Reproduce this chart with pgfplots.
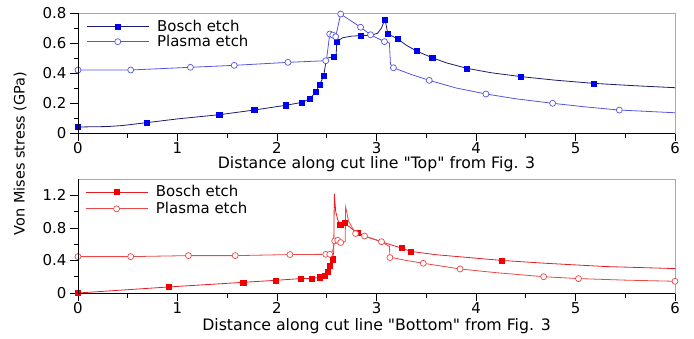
\documentclass[border=0pt]{standalone}
\usepackage{fontspec}
\setmainfont{DejaVu Sans}[Ligatures=TeXOff]
\usepackage{pgfplots}
\pgfplotsset{compat=1.18}
\definecolor{bnavy}{HTML}{1C1C70}
\definecolor{bblue}{HTML}{0000F0}
\definecolor{pblue}{HTML}{5555E0}
\definecolor{bred}{HTML}{E41E24}
\definecolor{pred}{HTML}{E84848}
\definecolor{sred}{HTML}{F00000}
\definecolor{boxgray}{HTML}{A8A8A8}
\pgfplotsset{
 mystyle/.style={
  scale only axis, width=597bp, xmin=0, xmax=6, xtick={0,1,...,6}, minor x tick num=1,
  tick align=outside, tick pos=left,
  axis line style={boxgray, line width=0.7bp},
  tick style={black, line width=0.6bp}, major tick length=8bp, minor tick length=4.5bp,
  ticklabel style={font=\fontsize{15}{16}\selectfont},
  xticklabel style={inner ysep=1bp},
  /pgf/number format/assume math mode=true,
  every axis x label/.style={at={(axis description cs:0.5,0)}, anchor=center, font=\fontsize{15.8}{17}\selectfont, inner sep=0pt},
  legend style={draw=none, fill=none, anchor=north west, font=\fontsize{15}{17}\selectfont, inner sep=0pt, outer sep=0pt, column sep=6bp},
  legend cell align=left,
  legend image code/.code={\draw[mark repeat=2, mark phase=2, ##1] plot coordinates {(0bp,0bp) (31bp,0bp) (62bp,0bp)};},
  after end axis/.code={\draw[black, line width=0.7bp] (rel axis cs:0,1) -- (rel axis cs:0,0) -- (rel axis cs:1,0);},
 }
}
\begin{document}
\begin{tikzpicture}[x=1bp, y=1bp]
\useasboundingbox (0,0) rectangle (694,338);
% ---------------- top ----------------
\begin{axis}[mystyle, at={(78bp,205bp)}, anchor=south west, height=120bp,
  ymin=0, ymax=0.8, ytick={0,0.2,0.4,0.6,0.8}, minor y tick num=1,
  yticklabel style={/pgf/number format/fixed},
  xlabel={Distance along cut line "Top" from Fig. 3},
  xlabel style={yshift=-31.5bp},
  legend style={at={(axis description cs:0.014,0.955)}, row sep=-2bp}]
\addplot[bnavy, line width=0.8bp, forget plot] coordinates {
(0,0.040) (0.3,0.043) (0.45,0.050) (0.69,0.069) (1.0,0.094) (1.42,0.122) (1.77,0.153) (2.09,0.185)
(2.25,0.204) (2.33,0.229) (2.39,0.273) (2.43,0.324) (2.47,0.382) (2.49,0.47) (2.51,0.50)
(2.57,0.509) (2.595,0.52) (2.60,0.609) (2.66,0.635) (2.75,0.646) (2.84,0.649) (2.95,0.652)
(3.01,0.665) (3.05,0.70) (3.085,0.758) (3.115,0.66) (3.21,0.629) (3.30,0.585) (3.40,0.547)
(3.56,0.502) (3.70,0.468) (3.91,0.431) (4.15,0.402) (4.45,0.376) (4.80,0.352) (5.18,0.331) (5.6,0.315) (6,0.302)};
\addplot[pblue, line width=0.8bp, forget plot] coordinates {
(0,0.42) (0.53,0.42) (1.13,0.438) (1.57,0.451) (2.11,0.471) (2.49,0.482) (2.50,0.50)
(2.53,0.66) (2.56,0.653) (2.59,0.642) (2.64,0.793) (2.84,0.705) (2.94,0.655) (3.08,0.609)
(3.13,0.60) (3.14,0.46) (3.17,0.435) (3.35,0.39) (3.53,0.351) (3.80,0.30) (4.10,0.26) (4.40,0.228) (4.77,0.198)
(5.10,0.174) (5.44,0.153) (6,0.135)};
\addplot[only marks, mark=square*, mark size=2.6bp, mark options={fill=bblue, draw=bblue}, forget plot] coordinates {
(0,0.040) (0.69,0.069) (1.42,0.122) (1.77,0.153) (2.09,0.185) (2.25,0.204) (2.33,0.229)
(2.39,0.273) (2.43,0.324) (2.47,0.382) (2.57,0.509) (2.60,0.609) (2.84,0.649) (3.085,0.758)
(3.115,0.66) (3.21,0.629) (3.40,0.547) (3.56,0.502) (3.91,0.431) (4.45,0.376) (5.18,0.331)};
\addplot[only marks, mark=*, mark size=3bp, mark options={fill=white, draw=pblue, line width=0.7bp}, forget plot] coordinates {
(0,0.42) (0.53,0.42) (1.13,0.438) (1.57,0.451) (2.11,0.471) (2.49,0.482) (2.53,0.66) (2.56,0.653)
(2.59,0.642) (2.64,0.793) (2.84,0.705) (2.94,0.655) (3.08,0.609) (3.17,0.435) (3.53,0.351)
(4.10,0.26) (4.77,0.198) (5.44,0.153)};
\addlegendimage{bnavy, line width=0.8bp, mark=square*, mark size=2.6bp, mark options={fill=bblue, draw=bblue}}
\addlegendentry{Bosch etch}
\addlegendimage{pblue, line width=0.8bp, mark=*, mark size=3bp, mark options={fill=white, draw=pblue, line width=0.7bp}}
\addlegendentry{Plasma etch}
\end{axis}
% ---------------- bottom ----------------
\begin{axis}[mystyle, at={(78bp,45bp)}, anchor=south west, height=114bp,
  ymin=0, ymax=1.4, ytick={0,0.4,0.8,1.2}, minor y tick num=1,
  yticklabel style={/pgf/number format/fixed},
  xlabel={Distance along cut line "Bottom" from Fig. 3},
  xlabel style={yshift=-33bp},
  legend style={at={(axis description cs:0.012,0.96)}, row sep=0bp}]
\addplot[bred, line width=0.8bp, forget plot] coordinates {
(0,0) (0.91,0.074) (1.66,0.131) (1.99,0.156) (2.24,0.177) (2.35,0.18) (2.43,0.193) (2.48,0.213)
(2.51,0.266) (2.53,0.336) (2.556,0.414) (2.57,0.50) (2.576,1.22) (2.59,1.00) (2.61,0.90)
(2.636,0.84) (2.68,0.86) (2.75,0.79) (2.81,0.74) (2.90,0.69) (3.05,0.63) (3.15,0.59) (3.25,0.553)
(3.34,0.512) (3.60,0.47) (4.26,0.40) (4.70,0.365) (5.30,0.325) (6,0.30)};
\addplot[pred, line width=0.8bp, forget plot] coordinates {
(0,0.447) (0.53,0.447) (1.11,0.459) (1.58,0.459) (2.13,0.472) (2.49,0.475) (2.53,0.475)
(2.56,0.52) (2.58,0.64) (2.61,0.647) (2.64,0.62) (2.685,0.63) (2.69,1.057) (2.72,0.88)
(2.79,0.73) (2.88,0.70) (3.05,0.63) (3.13,0.57) (3.135,0.44) (3.30,0.40) (3.47,0.365) (3.84,0.295) (4.20,0.25)
(4.68,0.20) (5.03,0.177) (5.50,0.158) (6,0.144)};
\addplot[only marks, mark=square*, mark size=2.6bp, mark options={fill=sred, draw=sred}, forget plot] coordinates {
(0,0) (0.91,0.074) (1.66,0.131) (1.99,0.156) (2.24,0.177) (2.35,0.18) (2.43,0.193) (2.48,0.213)
(2.51,0.266) (2.53,0.336) (2.556,0.414) (2.636,0.84) (2.68,0.86) (2.81,0.74) (3.25,0.553)
(3.34,0.512) (4.26,0.40)};
\addplot[only marks, mark=*, mark size=3bp, mark options={fill=white, draw=pred, line width=0.7bp}, forget plot] coordinates {
(0,0.447) (0.53,0.447) (1.11,0.459) (1.58,0.459) (2.13,0.472) (2.49,0.475) (2.53,0.475)
(2.58,0.64) (2.61,0.647) (2.64,0.62) (2.79,0.73) (2.88,0.70) (3.05,0.63) (3.135,0.435)
(3.47,0.365) (3.84,0.295) (4.68,0.20) (5.03,0.177) (6,0.144)};
\addlegendimage{bred, line width=0.8bp, mark=square*, mark size=2.6bp, mark options={fill=sred, draw=sred}}
\addlegendentry{Bosch etch}
\addlegendimage{pred, line width=0.8bp, mark=*, mark size=3bp, mark options={fill=white, draw=pred, line width=0.7bp}}
\addlegendentry{Plasma etch}
\end{axis}
\node[rotate=90, font=\fontsize{14.5}{16}\selectfont] at (20,184.5) {Von Mises stress (GPa)};
\end{tikzpicture}
\end{document}
